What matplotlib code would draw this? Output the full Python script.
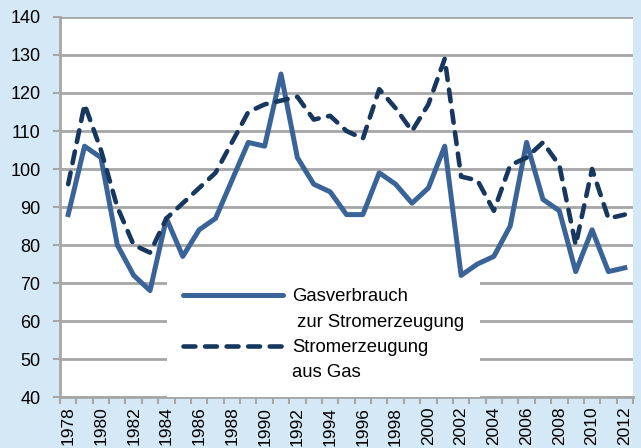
import numpy as np
import matplotlib
matplotlib.use('Agg')
import matplotlib.pyplot as plt
from matplotlib.lines import Line2D

plt.rcParams['font.family'] = ['Liberation Sans', 'DejaVu Sans']

years = list(range(1978, 2013))
# Gasverbrauch zur Stromerzeugung
gas = [88, 106, 103, 80, 72, 68, 87, 77, 84, 87, 97, 107, 106, 125, 103, 96, 94, 88, 88,
       99, 96, 91, 95, 106, 72, 75, 77, 85, 107, 92, 89, 73, 84, 73, 74]
# Stromerzeugung aus Gas
strom = [96, 117, 105, 90, 80, 78, 87, 91, 95, 99, 107, 115, 117, 118, 119, 113, 114, 110, 108,
         121, 116, 110, 117, 129, 98, 97, 89, 101, 103, 107, 101, 80, 100, 87, 88]

bg = '#D5E8F6'
c_gas = '#3A6497'
c_strom = '#17375E'
grid_c = '#A6A6A6'

fig = plt.figure(figsize=(6.41, 4.48), dpi=100, facecolor=bg)
ax = fig.add_axes([60/641, 51/448, 573/641, 380/448])
ax.set_facecolor('white')

x = np.arange(len(years))
ax.plot(x, gas, color=c_gas, lw=3.6, solid_joinstyle='round', zorder=6)
ax.plot(x, strom, color=c_strom, lw=3.3, dashes=(2.6, 2.1), dash_capstyle='round', zorder=6)

ax.set_xlim(-0.5, len(years) - 0.5)
ax.set_ylim(40, 140)
ax.set_yticks(range(40, 141, 10))
ax.yaxis.grid(True, color=grid_c, lw=2)
ax.set_axisbelow(True)

# category axis: ticks between categories, labels every second year
ax.set_xticks(np.arange(-0.5, len(years), 1))
ax.set_xticklabels([])
ax.set_xticks(x[::2], minor=True)
ax.set_xticklabels([str(y) for y in years[::2]], minor=True, rotation=90, fontsize=12.5)
ax.tick_params(axis='x', which='minor', length=0, pad=7)
ax.tick_params(axis='x', which='major', length=5, width=1.5, color=grid_c)
ax.tick_params(axis='y', length=5, width=1.5, color=grid_c, labelsize=13, pad=9)

for s in ['top', 'right']:
    ax.spines[s].set_visible(False)
for s in ['left', 'bottom']:
    ax.spines[s].set_color(grid_c)
    ax.spines[s].set_linewidth(2)

handles = [Line2D([], [], color=c_gas, lw=3.6, solid_capstyle='round'),
           Line2D([], [], color='none'),
           Line2D([], [], color=c_strom, lw=3.3, dashes=(2.6, 2.1), dash_capstyle='round'),
           Line2D([], [], color='none')]
labels = ['Gasverbrauch', ' zur Stromerzeugung', 'Stromerzeugung', 'aus Gas']
leg = ax.legend(handles, labels, loc='lower left', bbox_to_anchor=(0.187, 0.0),
                borderaxespad=0, frameon=True, fancybox=False, fontsize=13.3,
                handlelength=5.4, handletextpad=0.5, labelspacing=0.45, borderpad=0.85)
leg.get_frame().set_facecolor('white')
leg.get_frame().set_edgecolor('none')
leg.get_frame().set_alpha(1)
leg.set_zorder(5)

fig.savefig('out.png', dpi=100, facecolor=bg)
